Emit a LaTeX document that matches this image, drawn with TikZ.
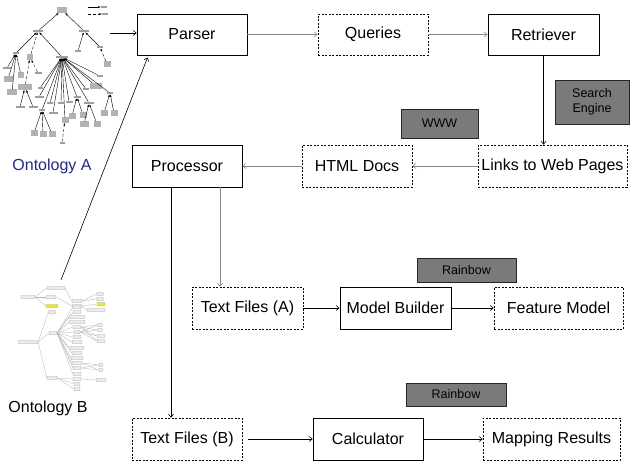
\documentclass[tikz,border=0pt]{standalone}
\usepackage{fontspec}
\setmainfont{Liberation Sans}
\usetikzlibrary{arrows.meta,calc}
\definecolor{gbox}{RGB}{122,122,122}
\definecolor{navyA}{RGB}{35,40,130}
\definecolor{garr}{RGB}{135,135,135}
\definecolor{hiy}{RGB}{235,235,40}
\begin{document}
\begin{tikzpicture}[x=1pt,y=-1pt,
  mainfont/.style={font=\fontsize{16}{19}\selectfont},
  solidbox/.style={draw=black,line width=0.8pt,minimum height=41pt,inner sep=0,mainfont},
  dashbox/.style={draw=black,line width=0.7pt,dash pattern=on 2pt off 1.5pt,minimum height=42pt,inner sep=0,mainfont},
  graybox/.style={draw=black!85,fill=gbox,line width=0.6pt,inner sep=0,font=\fontsize{12.5}{15}\selectfont},
  arr/.style={-{Straight Barb[length=3pt,width=5pt]},line width=0.6pt},
  garrow/.style={arr,draw=garr},
  ta/.style={fill=black!38,inner sep=0,minimum height=2.2pt,minimum width=#1},
  tb/.style={fill=black!30,inner sep=0,minimum height=5.5pt,minimum width=#1},
  tedge/.style={line width=0.4pt,-{Latex[length=2.5pt,width=2pt]}},
  ob/.style={draw=gray!60,fill=gray!15,line width=0.3pt,rounded corners=0.8pt,minimum height=3.5pt,inner sep=0,minimum width=#1},
  bedge/.style={draw=gray!60,line width=0.3pt},
]
\useasboundingbox (0,0) rectangle (630,464);

% ---------------- main boxes ----------------
\node[solidbox,minimum width=110pt] (parser) at (192,34.5) {Parser};
\node[dashbox,minimum width=110pt,minimum height=41pt] (queries) at (373,34.5) {Queries};
\node[solidbox,minimum width=111pt] (retriever) at (543.5,34.5) {Retriever};
\node[graybox,minimum width=74pt,minimum height=44pt,align=center] (search) at (592,102) {Search\\Engine};
\node[graybox,minimum width=77pt,minimum height=29pt] (www) at (439.5,123.5) {WWW};
\node[dashbox,minimum width=149pt] (links) at (552.5,166) {Links to Web Pages};
\node[dashbox,minimum width=110pt] (html) at (357,166) {HTML Docs};
\node[solidbox,minimum width=110pt,minimum height=42pt] (processor) at (187,166) {Processor};
\node[graybox,minimum width=99pt,minimum height=24pt] (rain1) at (466.5,270) {\raisebox{-3pt}{Rainbow}};
\node[dashbox,minimum width=111pt] (textA) at (247.5,308) {Text Files (A)};
\node[solidbox,minimum width=111pt,minimum height=42pt] (model) at (395.5,308) {Model Builder};
\node[dashbox,minimum width=129pt] (feature) at (558.5,308) {Feature Model};
\node[graybox,minimum width=100pt,minimum height=23pt] (rain2) at (456,394.5) {\raisebox{-3pt}{Rainbow}};
\node[dashbox,minimum width=110pt] (textB) at (187,439) {Text Files (B)};
\node[solidbox,minimum width=110pt,minimum height=42pt] (calc) at (368,439) {Calculator};
\node[dashbox,minimum width=137pt] (mapping) at (551.5,439) {Mapping Results};

% ---------------- ontology labels ----------------
\node[mainfont,text=navyA,anchor=base,inner sep=0] (ontA) at (52,170) {Ontology A};
\node[mainfont,anchor=base,inner sep=0] (ontB) at (48,412) {Ontology B};

% ---------------- connectors ----------------
\coordinate (oa) at (110,33);
\draw[arr] (oa) -- (oa -| parser.west);
\coordinate (ob) at (61,280);
\draw[arr] (ob) -- ([xshift=11pt,yshift=-2pt]parser.south west);
\draw[garrow] (parser) -- (queries);
\draw[garrow] (queries) -- (retriever);
\draw[arr] (retriever) -- (retriever |- links.north);
\draw[garrow] (links) -- (html);
\draw[garrow] (html) -- (processor);
\coordinate (pa) at ([xshift=33pt]processor.south);
\draw[garrow] (pa) -- (pa |- textA.north);
\coordinate (pb) at ([xshift=-16pt]processor.south);
\draw[arr] (pb) -- (pb |- textB.north);
\draw[arr] (textA) -- (model);
\draw[arr] (model) -- (feature);
\draw[arr,shorten <=6pt] (textB) -- (calc);
\draw[arr] (calc) -- (mapping);

% ---------------- ontology A thumbnail ----------------
\node[tb=10pt] (ar) at (62,10) {};
\node[ta=10pt] (ac) at (38,31) {};
\node[ta=10pt] (af) at (84,31) {};
\node[ta=6pt] (au) at (16,53) {};
\node[tb=6pt] (ag) at (30,57) {};
\node[ta=12pt] (ad) at (62,57) {};
\node[ta=6pt] (au2) at (78,51) {};
\node[ta=6pt] (at) at (100,47) {};
\node[tb=7pt] (as) at (107,64) {};
\node[ta=6pt] (lg1) at (104,7) {};
\node[ta=6pt] (lg2) at (105,14) {};
\coordinate (lgs1) at (88,7);
\coordinate (lgs2) at (88,14);
\draw[tedge] (lgs1) -- (lg1.west);
\draw[tedge,densely dashed] (lgs2) -- (lg2.west);
\draw[tedge] (ac) -- (ar);
\draw[tedge] (af) -- (ar);
\draw[tedge] (au) -- (ac);
\draw[tedge,densely dashed] (ag) -- (ac);
\draw[tedge] (ad) -- (ac);
\draw[tedge] (au2) -- (af);
\draw[tedge] (at) -- (af);
\draw[tedge,densely dashed] (as) -- (at);
% children of au
\node[ta=8pt] (a1) at (7,68) {};
\node[tb=9pt] (a2) at (8,79) {};
\node[tb=10pt] (a3) at (12,92) {};
\node[tb=6pt] (a4) at (21,75) {};
\foreach \n in {a1,a2,a3,a4} \draw[tedge] (\n) -- (au);
% children of ag
\node[ta=7pt] (b1) at (38,73) {};
\node[tb=14pt] (b2) at (25,87) {};
\node[ta=9pt] (b3) at (20,107) {};
\node[ta=9pt] (b4) at (33,107) {};
\draw[tedge,densely dashed] (b1) -- (ag);
\draw[tedge,densely dashed] (b2) -- (ag);
\draw[tedge] (b3) -- (b2);
\draw[tedge] (b4) -- (b2);
% children of ad
\node[ta=5pt] (d1) at (40,88) {};
\node[ta=9pt] (d2) at (39,97) {};
\node[ta=6pt] (d3) at (50,103) {};
\node[ta=9pt] (d4) at (53,113) {};
\node[ta=6pt] (d5) at (61,103) {};
\node[ta=7pt] (d6) at (69,102) {};
\node[ta=7pt] (d7) at (77,97) {};
\node[ta=6pt] (d8) at (86,89) {};
\node[tb=12pt] (d9) at (96,86) {};
\node[ta=10pt] (d10) at (89,103) {};
\node[ta=6pt] (d11) at (42,110) {};
\node[tb=7pt] (d12) at (65,120) {};
\node[ta=6pt] (d13) at (110,93) {};
\node[ta=6pt] (an) at (100,76) {};
\foreach \n in {d1,d2,d3,d4,d5,d6,d7,d8,d9,d10,d11,d12,d13,an} \draw[tedge] (\n) -- (ad);
\node[tb=7pt] (e1) at (72,116) {};
\node[tb=7pt] (e2) at (83,115) {};
\draw[tedge] (e1) -- (d7);
\draw[tedge] (e2) -- (d7);
\node[tb=9pt] (e3) at (84,124) {};
\node[tb=7pt] (e4) at (97,124) {};
\draw[tedge] (e3) -- (d10);
\draw[tedge] (e4) -- (d10);
\node[tb=7pt] (e5) at (34,133) {};
\node[tb=7pt] (e6) at (43,134) {};
\node[tb=7pt] (e7) at (52,134) {};
\foreach \n in {e5,e6,e7} \draw[tedge] (\n) -- (d11);
\node[ta=5pt] (e8) at (62,143) {};
\draw[tedge,densely dashed] (e8) -- (d12);
\node[tb=7pt] (e9) at (104,113) {};
\node[tb=7pt] (e10) at (114,113) {};
\draw[tedge] (e9) -- (d13);
\draw[tedge] (e10) -- (d13);

% ---------------- ontology B thumbnail ----------------
\node[ob=14pt] (br1) at (28,297) {};
\node[ob=18pt] (bb1) at (56,288) {};
\node[ob=10pt] (bb2) at (51,297) {};
\node[ob=12pt,fill=hiy] (bb3) at (52,306) {};
\foreach \n in {bb1,bb2,bb3} \draw[bedge] (br1.east) -- (\n.west);
\node[ob=10pt] (bm1) at (77,301) {};
\node[ob=10pt] (bm2) at (77,306) {};
\draw[bedge] (bb1.east) -- (bm1.west);
\draw[bedge] (bb2.east) -- (bm2.west);
\node[ob=7pt] (bx1) at (100,294) {};
\node[ob=7pt] (bx2) at (100,299) {};
\node[ob=8pt,fill=hiy] (bx3) at (101,304) {};
\node[ob=18pt] (bx4) at (96,310) {};
\draw[bedge] (bm1.east) -- (bx1.west);
\draw[bedge] (bm1.east) -- (bx2.west);
\draw[bedge] (bm2.east) -- (bx3.west);
\draw[bedge] (bm2.east) -- (bx4.west);
\node[ob=20pt] (br2) at (28,342) {};
\node[ob=7pt] (bc1) at (52,312) {};
\node[ob=8pt] (bc2) at (53,333) {};
\node[ob=10pt] (bc3) at (52,378) {};
\foreach \n in {bc1,bc2,bc3} \draw[bedge] (br2.east) -- (\n.west);
\foreach \yy/\ww [count=\i] in {307/8,312/8,317/16,322/16,327/8,332/6,337/8,342/10,348/14,353/10,358/12,363/10,368/8,374/8} {
  \node[ob=\ww pt] (f\i) at (77,\yy) {};
  \draw[bedge] (bc2.east) -- (f\i.west);
}
\node[ob=5pt] (g1) at (100,325) {};
\node[ob=5pt] (g2) at (100,330) {};
\node[ob=8pt] (g3) at (101,336) {};
\node[ob=8pt] (g4) at (101,341) {};
\foreach \n in {g1,g2,g3,g4} {\draw[bedge] (f5.east) -- (\n.west); \draw[bedge] (f6.east) -- (\n.west);}
\node[ob=4pt] (g5) at (101,365) {};
\node[ob=4pt] (g6) at (101,370) {};
\foreach \n in {g5,g6} {\draw[bedge] (f12.east) -- (\n.west); \draw[bedge] (f13.east) -- (\n.west);}
\node[ob=8pt] (h1) at (77,379) {};
\node[ob=6pt] (h2) at (77,384) {};
\node[ob=6pt] (h3) at (77,389) {};
\foreach \n in {h1,h2,h3} \draw[bedge] (bc3.east) -- (\n.west);
\node[ob=10pt] (g7) at (101,380) {};
\draw[bedge] (h1.east) -- (g7.west);
\end{tikzpicture}
\end{document}
